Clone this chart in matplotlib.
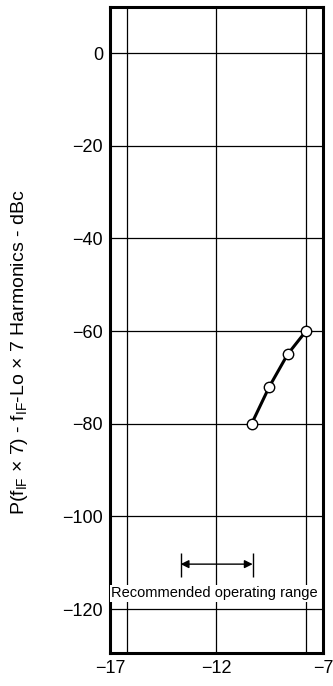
import matplotlib
matplotlib.use("Agg")
import matplotlib.pyplot as plt

# measured points
lo_power = [-10.35, -9.52, -8.66, -7.8]
harmonics_dbc = [-80, -72, -65, -60]

x_ticks = [-17, -12, -7]
y_ticks = [0, -20, -40, -60, -80, -100, -120]
x_grid = [-16.2, -12, -7.8]

range_start = -13.68
range_end = -10.3
range_text = "Recommended operating range"

plt.rcParams['font.family'] = ['Liberation Sans', 'DejaVu Sans']
plt.rcParams['mathtext.fontset'] = 'custom'
plt.rcParams['mathtext.rm'] = 'Liberation Sans'

fig = plt.figure(figsize=(3.33, 6.86), dpi=100)
ax = fig.add_axes([0.330, 0.048, 0.640, 0.942])

ax.set_xlim(-17, -7)
ax.set_ylim(-129.5, 10)

for y in y_ticks:
    ax.axhline(y, color='black', lw=0.9, zorder=1)
for x in x_grid:
    ax.axvline(x, color='black', lw=0.9, zorder=1)

ax.plot(lo_power, harmonics_dbc, color='black', lw=2.2, marker='o', ms=7.5,
        mfc='white', mec='black', mew=1.0, zorder=5, clip_on=False)

# recommended range arrow
ax.annotate('', xy=(range_start, -110.3), xytext=(range_end, -110.3),
            arrowprops=dict(arrowstyle='<|-|>', color='black', lw=1.0,
                            mutation_scale=12, shrinkA=0, shrinkB=0))
ax.vlines([range_start, range_end], -113.1, -107.9, color='black', lw=1.0)
ax.text(-12.1, -116.6, range_text, ha='center', va='center', fontsize=10.5,
        family=['Liberation Sans Narrow', 'Liberation Sans'],
        bbox=dict(facecolor='white', edgecolor='none', pad=1.0), zorder=4)

ax.set_xticks(x_ticks)
ax.set_xticklabels(['\u221217', '\u221212', '\u22127'])
ax.set_yticks(y_ticks)
ax.set_yticklabels(['0'] + ['\u2212%d' % abs(v) for v in y_ticks[1:]])
ax.tick_params(length=0, labelsize=13, pad=5)

for s in ax.spines.values():
    s.set_linewidth(2.2)

fig.text(0.058, 0.487, r"P(f$_{\rm IF}$ $\times$ 7) - f$_{\rm IF}$-Lo $\times$ 7 Harmonics - dBc",
         rotation=90, ha='center', va='center', fontsize=14)

fig.savefig('out.png', dpi=100)
